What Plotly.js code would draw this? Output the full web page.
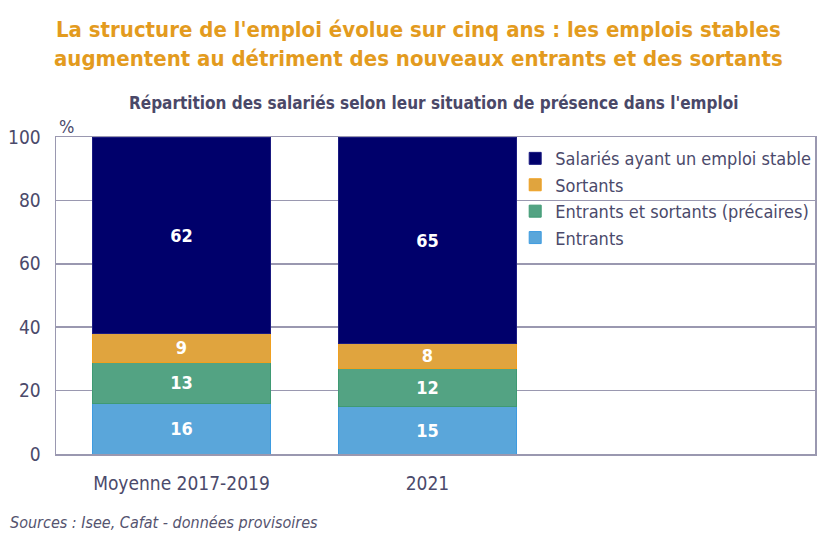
<!DOCTYPE html>
<html><head><meta charset="utf-8">
<script src="https://cdn.plot.ly/plotly-3.0.1.min.js"></script>
<style>html,body{margin:0;padding:0;background:#fff}#chart{width:835px;height:557px}</style>
</head><body><div id="chart"></div>
<script>
const categories = ["Moyenne 2017-2019", "2021"];
const entrants = [16, 15];
const entrantsSortants = [13, 12];
const sortants = [9, 8];
const stables = [62, 65];
const yTicks = [0, 20, 40, 60, 80, 100];

const FONT = '"DejaVu Sans Condensed", "Liberation Sans Narrow", "Roboto", sans-serif';
const TXT = '#4b4a6b';

function bar(name, vals, color, line) {
  return {
    type: 'bar', name: name, x: categories, y: vals,
    marker: {color: color, line: {color: line, width: 1}},
    width: 0.72,
    text: vals.map(String), texttemplate: '%{text}',
    textposition: 'inside', insidetextanchor: 'middle', textangle: 0,
    constraintext: 'none',
    textfont: {family: FONT, size: 18, color: '#ffffff', weight: 'bold'},
    hoverinfo: 'none'
  };
}

const data = [
  bar('Entrants', entrants, '#5aa6da', '#3d9be0'),
  bar('Entrants et sortants (précaires)', entrantsSortants, '#53a383', '#3f9a73'),
  bar('Sortants', sortants, '#e0a43e', '#f0a020'),
  bar('Salariés ayant un emploi stable', stables, '#00006b', '#1a1a80')
];

const layout = {
  width: 835, height: 557,
  margin: {l: 56, r: 20, t: 137, b: 103},
  barmode: 'stack',
  paper_bgcolor: '#fff', plot_bgcolor: '#fff',
  font: {family: FONT, color: TXT},
  showlegend: true,
  legend: {
    x: 0.605, y: 0.99, xanchor: 'left', yanchor: 'top',
    traceorder: 'reversed', bgcolor: 'rgba(0,0,0,0)',
    font: {family: FONT, size: 18, color: TXT},
    tracegroupgap: 0
  },
  xaxis: {
    type: 'category', range: [-0.51, 2.575],
    showline: true, linecolor: '#9a98b0', linewidth: 1.5, mirror: true,
    showgrid: false, ticks: '', fixedrange: true,
    tickfont: {family: FONT, size: 19, color: TXT},
    ticklabelstandoff: 12
  },
  yaxis: {
    range: [0, 100], tickvals: yTicks, ticktext: yTicks.map(String),
    showline: true, linecolor: '#9a98b0', linewidth: 1.5, mirror: true,
    showgrid: true, gridcolor: '#9a98b0', gridwidth: 1.5,
    zeroline: false, ticks: '',
    tickfont: {family: FONT, size: 19, color: TXT},
    ticklabelstandoff: 10
  },
  annotations: [
    {text: "La structure de l'emploi évolue sur cinq ans : les emplois stables<br>augmentent au détriment des nouveaux entrants et des sortants",
     xref: 'paper', yref: 'paper', xanchor: 'center', yanchor: 'middle',
     showarrow: false, align: 'center',
     font: {family: FONT, size: 22, color: '#e39b1e', weight: 'bold'}},
    {text: "Répartition des salariés selon leur situation de présence dans l'emploi",
     xref: 'paper', yref: 'paper', xanchor: 'center', yanchor: 'middle',
     showarrow: false,
     font: {family: FONT, size: 17, color: '#4a4868', weight: 'bold'}},
    {text: "%", xref: 'paper', yref: 'paper', xanchor: 'left', yanchor: 'bottom',
     showarrow: false, font: {family: FONT, size: 18, color: TXT}, yshift: -2},
    {text: "Sources : Isee, Cafat - données provisoires",
     xref: 'paper', yref: 'paper', xanchor: 'left', yanchor: 'middle',
     showarrow: false, font: {family: FONT, size: 16, color: '#55546f', style: 'italic'}}
  ]
};

const plotH = 557 - 137 - 103, plotW = 835 - 56 - 20;
function yPaper(py) { return (557 - 103 - py) / plotH; }
function xPaper(px) { return (px - 56) / plotW; }
layout.annotations[0].x = xPaper(418); layout.annotations[0].y = yPaper(44);
layout.annotations[1].x = xPaper(433); layout.annotations[1].y = yPaper(103);
layout.annotations[2].x = xPaper(57);  layout.annotations[2].y = 1;
layout.annotations[3].x = xPaper(8);   layout.annotations[3].y = yPaper(522);

Plotly.newPlot('chart', data, layout, {displayModeBar: false, staticPlot: true});
</script></body></html>
